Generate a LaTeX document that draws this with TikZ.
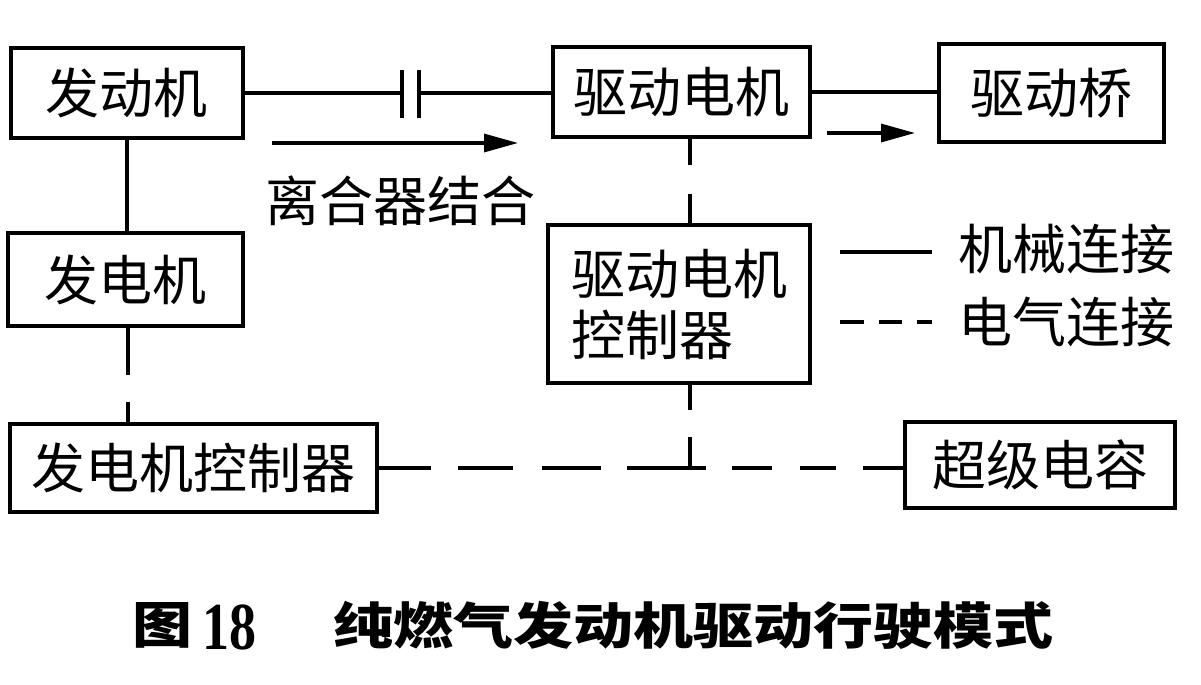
\documentclass[tikz,border=0pt]{standalone}
\usepackage{fontspec}
\newfontfamily\cjk{Noto Sans CJK SC}
\newfontfamily\numfont{Liberation Serif}
\usetikzlibrary{arrows.meta,calc}
\begin{document}
\begin{tikzpicture}[x=0.5pt,y=-0.5pt,
  box/.style={draw, line width=1.6pt, inner sep=0pt, font=\cjk\fontsize{27pt}{30.5pt}\selectfont},
  conn/.style={line width=1.6pt},
  flow/.style={line width=1.6pt, -{Triangle[length=17pt,width=9pt]}},
  lbl/.style={inner sep=0pt, font=\cjk\fontsize{27pt}{30.5pt}\selectfont},
]
\useasboundingbox[fill=white] (0,0) rectangle (1201,685);

% boxes
\node[box, minimum width=116pt, minimum height=45pt] (eng) at (127,93) {发动机};
\node[box, minimum width=128.5pt, minimum height=45pt] (drm) at (681.5,92) {驱动电机};
\node[box, minimum width=112.5pt, minimum height=49pt] (axle) at (1051.5,93) {驱动桥};
\node[box, minimum width=117.5pt, minimum height=46.5pt] (gen) at (125.5,279.5) {发电机};
\node[box, minimum width=131pt, minimum height=79pt, align=left] (drc) at (679,304) {驱动电机\\控制器};
\node[box, minimum width=183.5pt, minimum height=44pt] (genc) at (193.5,468) {发电机控制器};
\node[box, minimum width=135pt, minimum height=43pt] (cap) at (1040,465) {超级电容};

% clutch and mechanical links
\coordinate (p1) at (402,93);
\coordinate (p2) at (419,93);
\draw[conn] (eng.east) -- (p1);
\draw[conn] (p2) -- (p2 -| drm.west);
\draw[conn] ($(p1)+(0,-23)$) -- ($(p1)+(0,25)$);
\draw[conn] ($(p2)+(0,-23)$) -- ($(p2)+(0,25)$);
\draw[conn] (drm.east) -- (drm.east -| axle.west);
\draw[conn] (eng.south) -- (eng.south |- gen.north);

% power flow arrows
\coordinate (a1s) at (272,143);
\coordinate (a1e) at (518,143);
\draw[flow] (a1s) -- (a1e);
\node[lbl] (clutchlbl) at (400,201) {离合器结合};
\coordinate (a2s) at (827,133);
\coordinate (a2e) at (915,133);
\draw[flow] (a2s) -- (a2e);

% electrical links
\coordinate (j) at (690,468);
\coordinate (gx) at (128,0);
\draw[conn, dash pattern=on 23.5pt off 13.5pt on 30pt off 1pt] (gen.south -| gx) -- (genc.north -| gx);
\draw[conn, dash pattern=on 13pt off 14.5pt on 30pt off 1pt] (drm.south -| j) -- (drc.north -| j);
\draw[conn, dash pattern=on 12.5pt off 13.5pt on 30pt off 1pt] (drc.south -| j) -- (j);
\draw[conn, dash pattern=on 26pt off 13.5pt on 27.5pt off 14.5pt on 29.5pt off 13pt on 40pt off 1pt] (genc.east) -- (j);
\draw[conn, dash pattern=on 8pt off 13pt on 20pt off 14pt on 18pt off 13.5pt on 30pt off 1pt] (j) -- (j -| cap.west);

% legend
\coordinate (m1) at (840,252);
\coordinate (m2) at (932,252);
\coordinate (e1) at (840,322);
\coordinate (e2) at (932,322);
\draw[conn] (m1) -- (m2);
\draw[conn, dash pattern=on 12pt off 7.5pt on 11.5pt off 7.5pt on 10pt off 1pt] (e1) -- (e2);
\node[lbl, anchor=west] (mechlbl) at (958,249) {机械连接};
\node[lbl, anchor=west] (eleclbl) at (958,322) {电气连接};

% caption
\node[inner sep=0pt] (capfig) at (162,625) {\cjk\bfseries\fontsize{25pt}{25pt}\selectfont\scalebox{1.2}[1]{图}};
\node[inner sep=0pt] (capnum) at (229,627) {\numfont\bfseries\fontsize{30pt}{30pt}\selectfont\scalebox{0.9}[1.12]{18}};
\node[inner sep=0pt] (captext) at (693.5,625) {\cjk\bfseries\fontsize{25pt}{25pt}\selectfont\scalebox{1.2}[1]{纯燃气发动机驱动行驶模式}};
\end{tikzpicture}
\end{document}
